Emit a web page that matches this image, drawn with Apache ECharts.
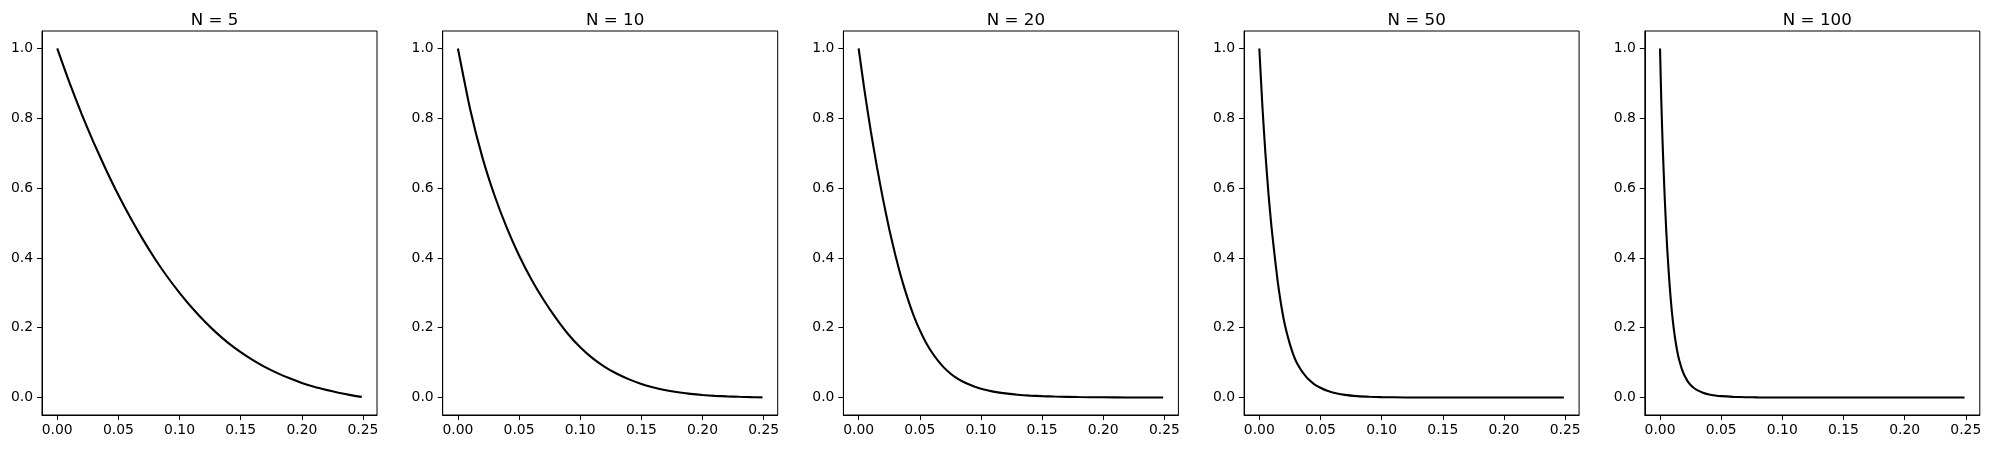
<!DOCTYPE html>
<html>
<head>
<meta charset="utf-8">
<title>N curves</title>
<script src="https://cdn.jsdelivr.net/npm/echarts@6.0.0/dist/echarts.min.js"></script>
<style>
  html, body { margin: 0; padding: 0; background: #fff; }
  #chart { width: 1990px; height: 449px; }
</style>
</head>
<body>
<div id="chart"></div>
<script>
// 读图估计的数据（每个子图一组 x / y）
var titles = ['N = 5', 'N = 10', 'N = 20', 'N = 50', 'N = 100'];

var x5 = [0, 0.01, 0.02, 0.03, 0.04, 0.05, 0.06, 0.07, 0.08, 0.09, 0.10, 0.11, 0.12,
  0.13, 0.14, 0.15, 0.16, 0.17, 0.18, 0.19, 0.20, 0.21, 0.22, 0.23, 0.24, 0.249];
var y5 = [1.000, 0.902, 0.812, 0.729, 0.652, 0.580, 0.514, 0.453, 0.397, 0.346, 0.300, 0.258, 0.220,
  0.186, 0.156, 0.130, 0.107, 0.087, 0.070, 0.055, 0.042, 0.031, 0.022, 0.014, 0.007, 0.002];

var x10 = [0, 0.01, 0.02, 0.03, 0.04, 0.05, 0.06, 0.07, 0.08, 0.09, 0.10, 0.11, 0.12,
  0.13, 0.14, 0.15, 0.16, 0.17, 0.18, 0.19, 0.20, 0.21, 0.22, 0.23, 0.24, 0.249];
var y10 = [1.000, 0.826, 0.688, 0.578, 0.486, 0.407, 0.339, 0.280, 0.228, 0.182, 0.144, 0.113, 0.088,
  0.068, 0.052, 0.039, 0.029, 0.021, 0.015, 0.0105, 0.0072, 0.0049, 0.0033, 0.0021, 0.0012, 0.0006];

var x20 = [0, 0.005, 0.01, 0.015, 0.02, 0.025, 0.03, 0.035, 0.04, 0.045, 0.05, 0.055, 0.06,
  0.065, 0.07, 0.075, 0.08, 0.085, 0.09, 0.095, 0.10, 0.11, 0.12, 0.13, 0.14, 0.15, 0.16,
  0.18, 0.20, 0.22, 0.249];
var y20 = [1.000, 0.875, 0.762, 0.660, 0.567, 0.483, 0.408, 0.342, 0.285, 0.235, 0.193, 0.158, 0.129,
  0.105, 0.085, 0.069, 0.056, 0.046, 0.038, 0.031, 0.025, 0.017, 0.012, 0.008, 0.0055, 0.004, 0.0028,
  0.0014, 0.0007, 0.0003, 0.0001];

var x50 = [0, 0.0025, 0.005, 0.0075, 0.01, 0.0125, 0.015, 0.0175, 0.02, 0.0225, 0.025, 0.0275, 0.03,
  0.0325, 0.035, 0.0375, 0.04, 0.045, 0.05, 0.055, 0.06, 0.07, 0.08, 0.09, 0.10, 0.12, 0.15,
  0.20, 0.249];
var y50 = [1.000, 0.835, 0.698, 0.583, 0.487, 0.407, 0.333, 0.273, 0.223, 0.185, 0.153, 0.126, 0.104,
  0.088, 0.074, 0.063, 0.053, 0.038, 0.028, 0.020, 0.0147, 0.0077, 0.0041, 0.0022, 0.0011, 0.0003, 0.00005,
  0, 0];

var x100 = [0, 0.001, 0.002, 0.003, 0.004, 0.005, 0.006, 0.007, 0.008, 0.009, 0.010, 0.011, 0.012,
  0.013, 0.014, 0.015, 0.016, 0.017, 0.018, 0.019, 0.020, 0.0225, 0.025, 0.0275, 0.03, 0.035, 0.04,
  0.045, 0.05, 0.06, 0.07, 0.08, 0.10, 0.15, 0.20, 0.249];
var y100 = [1.000, 0.855, 0.740, 0.645, 0.560, 0.485, 0.420, 0.365, 0.315, 0.272, 0.235, 0.204, 0.177,
  0.154, 0.134, 0.117, 0.103, 0.091, 0.080, 0.071, 0.063, 0.047, 0.036, 0.028, 0.022, 0.014, 0.009,
  0.006, 0.004, 0.002, 0.001, 0.0005, 0.0001, 0, 0, 0];

var xTicks = [0, 0.05, 0.10, 0.15, 0.20, 0.25];
var yTicks = [0, 0.2, 0.4, 0.6, 0.8, 1.0];

var allX = [x5, x10, x20, x50, x100];
var allY = [y5, y10, y20, y50, y100];

var font = 'DejaVu Sans';
var gridLeft0 = 42, gridPitch = 400.7, gridW = 335, gridTop = 31, gridH = 384;

var grids = [], xAxes = [], yAxes = [], series = [], titleList = [];
for (var i = 0; i < 5; i++) {
  var left = gridLeft0 + i * gridPitch;
  grids.push({
    left: left, top: gridTop, width: gridW, height: gridH,
    show: true, borderColor: '#000', borderWidth: 1, backgroundColor: '#fff'
  });
  xAxes.push({
    type: 'value', gridIndex: i, min: -0.01245, max: 0.26145,
    axisLine: { show: true, onZero: false, lineStyle: { color: '#000', width: 1 } },
    axisTick: { show: true, length: 5, lineStyle: { color: '#000' }, customValues: xTicks },
    axisLabel: {
      show: true, margin: 8, color: '#000', fontFamily: font, fontSize: 13.9,
      customValues: xTicks,
      formatter: function (v) { return v.toFixed(2); }
    },
    splitLine: { show: false }
  });
  yAxes.push({
    type: 'value', gridIndex: i, min: -0.05, max: 1.05,
    axisLine: { show: true, onZero: false, lineStyle: { color: '#000', width: 1 } },
    axisTick: { show: true, length: 5, lineStyle: { color: '#000' }, customValues: yTicks },
    axisLabel: {
      show: true, margin: 9, color: '#000', fontFamily: font, fontSize: 13.9,
      customValues: yTicks,
      formatter: function (v) { return v.toFixed(1); }
    },
    splitLine: { show: false }
  });
  var pts = [];
  for (var k = 0; k < allX[i].length; k++) pts.push([allX[i][k], allY[i][k]]);
  series.push({
    type: 'line', xAxisIndex: i, yAxisIndex: i, data: pts,
    showSymbol: false, smooth: 0.2,
    lineStyle: { color: '#000', width: 2.1 },
    itemStyle: { color: '#000' }
  });
  titleList.push({
    text: titles[i], left: left + gridW / 2, top: 7, textAlign: 'center',
    textStyle: { fontFamily: font, fontSize: 16.7, fontWeight: 'normal', color: '#000' }
  });
}

var chart = echarts.init(document.getElementById('chart'));
chart.setOption({
  animation: false,
  backgroundColor: '#fff',
  title: titleList,
  grid: grids,
  xAxis: xAxes,
  yAxis: yAxes,
  series: series
});
</script>
</body>
</html>
